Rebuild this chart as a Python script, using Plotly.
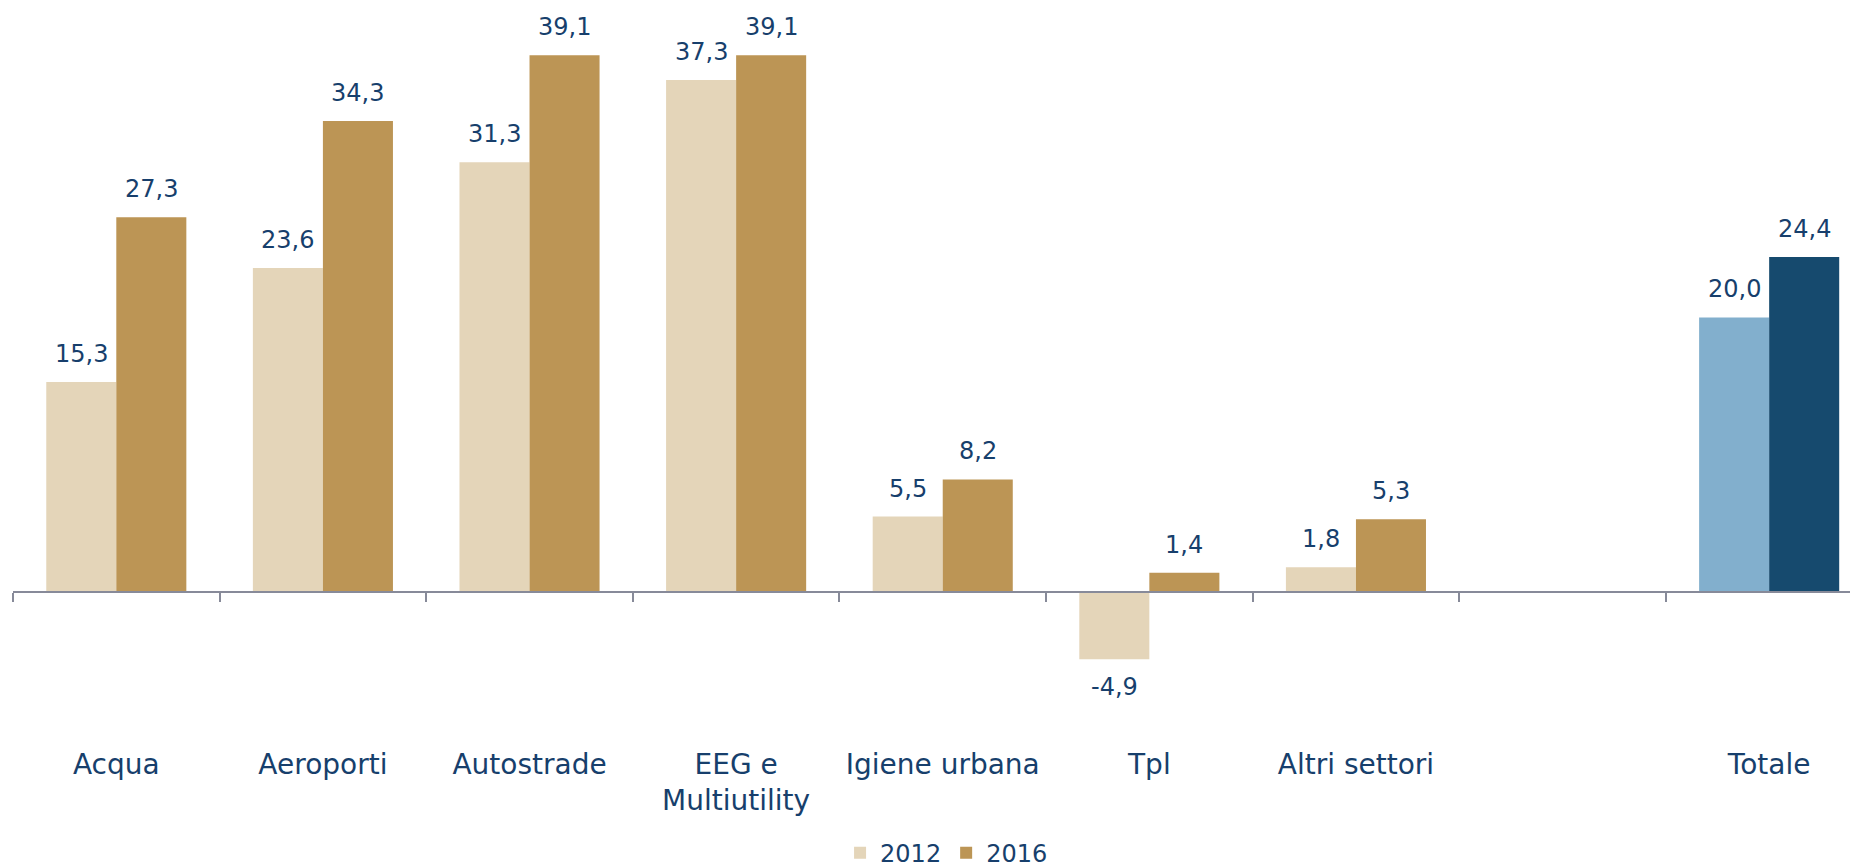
import plotly.graph_objects as go

# ---- data ----
categories = ["Acqua", "Aeroporti", "Autostrade", "EEG e<br>Multiutility",
              "Igiene urbana", "Tpl", "Altri settori", " ", "Totale"]
values_2012 = [15.3, 23.6, 31.3, 37.3, 5.5, -4.9, 1.8, None, 20.0]
values_2016 = [27.3, 34.3, 39.1, 39.1, 8.2, 1.4, 5.3, None, 24.4]
series_names = ["2012", "2016"]
total_category = "Totale"

# ---- styles ----
W, H = 1850, 860
C_2012, C_2016 = "#E4D5B9", "#BC9555"
C_TOT_2012, C_TOT_2016 = "#82AFCD", "#164A6E"
TEXT = "#173F6C"
AXIS = "#878A99"
FONT = "DejaVu Sans"
M_L, M_R, M_T, M_B = 5, 0, 2, 123

def colors(base, total):
    return [total if c == total_category else base for c in categories]

y_min, y_max = -11.14, 42.39
x_range = [-0.5, 8.43]
bargap = 0.322

fig = go.Figure()
series = [(series_names[0], values_2012, C_2012, C_TOT_2012),
          (series_names[1], values_2016, C_2016, C_TOT_2016)]
for name, vals, base, tot in series:
    fig.add_trace(go.Bar(
        x=categories, y=vals, name=name,
        marker=dict(color=colors(base, tot), line=dict(width=0)),
        hoverinfo="x+y",
    ))
# helper trace to carry the category axis drawn at zero
fig.add_trace(go.Scatter(
    x=categories, y=[0] * len(categories), xaxis="x2", mode="none",
    showlegend=False, hoverinfo="skip",
))

# data labels placed on each bar via the axes
plot_w = W - M_L - M_R
cat_px = plot_w / (x_range[1] - x_range[0])
half_bar_px = (1 - bargap) * cat_px / 4
annotations = []
for k, (name, vals, base, tot) in enumerate(series):
    xs = -half_bar_px if k == 0 else half_bar_px
    for c, v in zip(categories, vals):
        if v is None:
            continue
        pos = v >= 0
        annotations.append(dict(
            x=c, y=v, xref="x", yref="y", showarrow=False,
            text=f"{v:.1f}".replace(".", ","),
            xshift=xs, yshift=12 if pos else -12,
            yanchor="bottom" if pos else "top", xanchor="center",
            font=dict(family=FONT, size=24, color=TEXT),
        ))

zero_pos = (0 - y_min) / (y_max - y_min)

fig.update_layout(
    width=W, height=H,
    margin=dict(l=M_L, r=M_R, t=M_T, b=M_B, autoexpand=False),
    paper_bgcolor="white", plot_bgcolor="white",
    separators=",.",
    barmode="group", bargap=bargap, bargroupgap=0,
    font=dict(family=FONT, color=TEXT),
    annotations=annotations,
    xaxis=dict(
        type="category", categoryorder="array", categoryarray=categories,
        range=x_range, showline=False, showgrid=False, zeroline=False,
        ticks="", ticklabelstandoff=0, automargin=False,
        tickfont=dict(family=FONT, size=28, color=TEXT),
    ),
    xaxis2=dict(
        type="category", categoryorder="array", categoryarray=categories,
        range=x_range, overlaying="x", anchor="free", position=zero_pos,
        side="bottom", showticklabels=False, showgrid=False, zeroline=False,
        showline=True, linecolor=AXIS, linewidth=2,
        ticks="outside", tickson="boundaries", ticklen=9, tickwidth=2,
        tickcolor=AXIS,
    ),
    yaxis=dict(range=[y_min, y_max], visible=False, showgrid=False,
               zeroline=False),
    legend=dict(orientation="h", x=0.506, xanchor="center", y=-0.147,
                yanchor="middle", font=dict(family=FONT, size=24, color=TEXT),
                traceorder="normal"),
    showlegend=True,
)

fig.write_html("out.html")
